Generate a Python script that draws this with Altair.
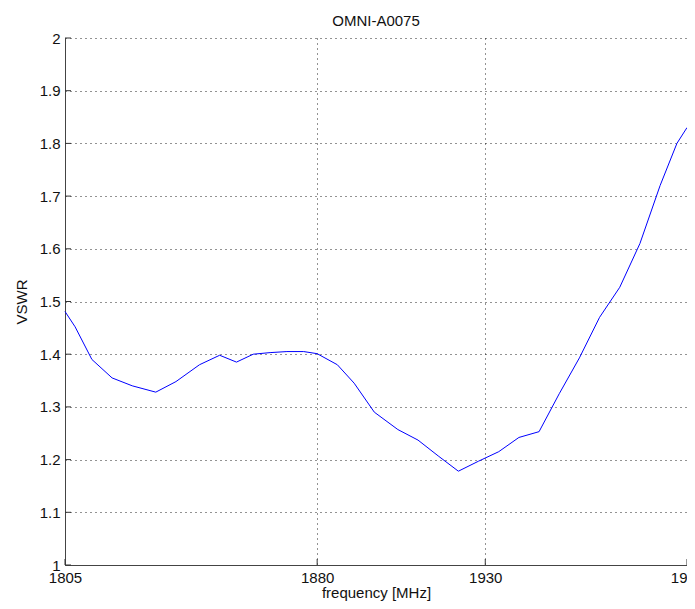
import altair as alt
import pandas as pd

freq = [1805, 1808, 1813, 1819, 1825, 1832, 1838, 1845, 1851, 1856, 1861, 1866,
        1871, 1876, 1880, 1886, 1891, 1897, 1904, 1910, 1916, 1922, 1928, 1934,
        1940, 1946, 1952, 1958, 1964, 1970, 1976, 1982, 1987, 1990]
vswr = [1.481, 1.452, 1.39, 1.355, 1.34, 1.328, 1.348, 1.38, 1.398, 1.385, 1.400, 1.403,
        1.405, 1.405, 1.401, 1.38, 1.345, 1.29, 1.257, 1.237, 1.207, 1.178, 1.197, 1.215,
        1.242, 1.253, 1.325, 1.393, 1.47, 1.527, 1.61, 1.72, 1.80, 1.83]

x_ticks = [1805, 1880, 1930, 1990]
y_ticks = [1.0, 1.1, 1.2, 1.3, 1.4, 1.5, 1.6, 1.7, 1.8, 1.9, 2.0]

FONT = "Liberation Sans"
df = pd.DataFrame({"f": freq, "v": vswr})
dfy = pd.DataFrame({"v": y_ticks})
dfx = pd.DataFrame({"f": x_ticks})

xscale = alt.Scale(domain=[1805, 1990], nice=False, zero=False)
yscale = alt.Scale(domain=[1, 2], nice=False, zero=False)
xaxis = alt.Axis(values=x_ticks, format="d", tickSize=0, labelPadding=5,
                 titleBaseline="bottom", titleY=35, grid=True, labelFlush=False)
yaxis = alt.Axis(values=y_ticks, format="~g", tickSize=0, labelPadding=5,
                 titlePadding=10, grid=True)

X = alt.X("f:Q", scale=xscale, title="frequency [MHz]", axis=xaxis)
Y = alt.Y("v:Q", scale=yscale, title="VSWR", axis=yaxis)

line = alt.Chart(df).mark_line(color="#0000ff", strokeWidth=1).encode(x=X, y=Y)

yt = alt.Chart(dfy).mark_rule(color="#333333", strokeWidth=1).encode(
    x=alt.value(0), x2=alt.value(6), y=Y,
)
xt = alt.Chart(dfx).mark_rule(color="#333333", strokeWidth=1).encode(
    x=X, y=alt.value(527), y2=alt.value(521),
)

chart = alt.layer(line, yt, xt).properties(
    width=622, height=527,
    title=alt.TitleParams("OMNI-A0075", fontSize=15, font=FONT, fontWeight="normal",
                          color="#111111", offset=2),
    autosize=alt.AutoSizeParams(type="none"),
    padding={"left": 57, "top": 30, "right": 0, "bottom": 36},
).configure(background="white").configure_view(stroke="transparent").configure_axis(
    labelFont=FONT, titleFont=FONT, labelFontSize=15, titleFontSize=15,
    labelColor="#111111", titleColor="#111111", titleFontWeight="normal",
    domainColor="#444444", domainWidth=1,
    gridColor="#000000", gridDash=[1, 4], gridOpacity=0.85, gridWidth=1,
)

chart.save("out.html", embed_options={"renderer": "svg", "actions": False})
